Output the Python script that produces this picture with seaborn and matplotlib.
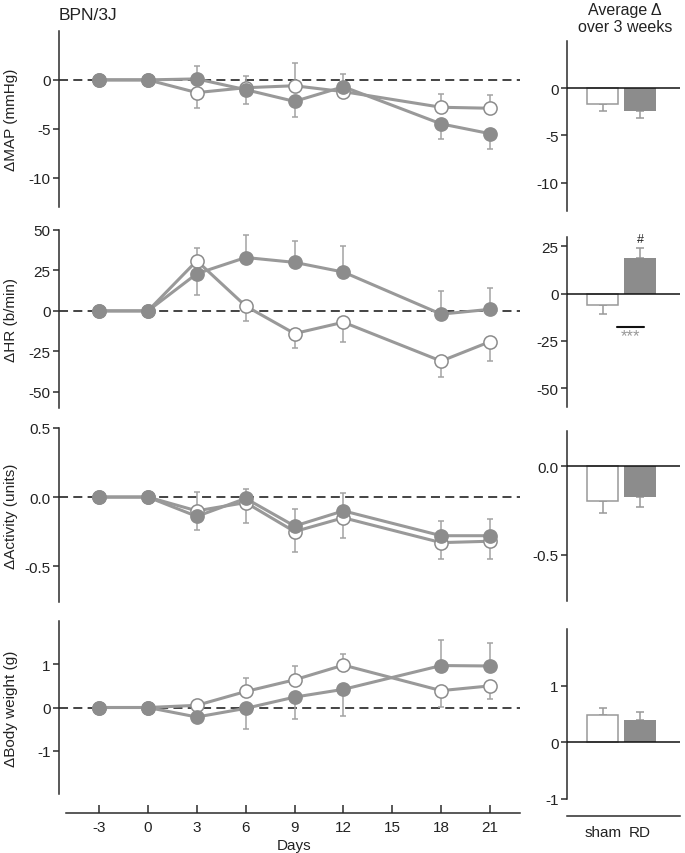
import numpy as np
import pandas as pd
import seaborn as sns
import matplotlib.pyplot as plt

# time course (days after surgery)
days = [-3, 0, 3, 6, 9, 12, 18, 21]

map_rd = [0, 0, 0.1, -1.0, -2.2, -0.7, -4.5, -5.5]
map_rd_lo = [0, 0, 0, 1.5, 1.6, 0, 1.5, 1.6]
map_rd_hi = [0, 0, 1.3, 0, 0, 1.3, 0, 0]
map_sham = [0, 0, -1.3, -0.8, -0.6, -1.2, -2.8, -2.9]
map_sham_lo = [0, 0, 1.6, 0, 0, 0, 0, 0]
map_sham_hi = [0, 0, 0, 1.2, 2.3, 0, 1.4, 1.4]

hr_rd = [0, 0, 23, 33, 30, 24, -2, 1]
hr_rd_lo = [0, 0, 13, 0, 0, 0, 0, 0]
hr_rd_hi = [0, 0, 0, 14, 13, 16, 14, 13]
hr_sham = [0, 0, 31, 3, -14, -7, -31, -19]
hr_sham_lo = [0, 0, 0, 9, 9, 12, 10, 12]
hr_sham_hi = [0, 0, 8, 0, 0, 0, 0, 0]

act_rd = [0, 0, -0.14, -0.01, -0.21, -0.10, -0.28, -0.28]
act_rd_lo = [0, 0, 0.10, 0, 0, 0, 0, 0]
act_rd_hi = [0, 0, 0, 0.07, 0.12, 0.13, 0.11, 0.12]
act_sham = [0, 0, -0.10, -0.04, -0.25, -0.15, -0.33, -0.32]
act_sham_lo = [0, 0, 0, 0.15, 0.15, 0.15, 0.12, 0.13]
act_sham_hi = [0, 0, 0.14, 0, 0, 0, 0, 0]

bw_rd = [0, 0, -0.22, -0.02, 0.24, 0.42, 0.97, 0.96]
bw_rd_lo = [0, 0, 0, 0.48, 0.50, 0.62, 0, 0]
bw_rd_hi = [0, 0, 0, 0, 0, 0, 0.58, 0.52]
bw_sham = [0, 0, 0.05, 0.37, 0.64, 0.98, 0.39, 0.50]
bw_sham_lo = [0, 0, 0, 0, 0, 0, 0.37, 0.30]
bw_sham_hi = [0, 0, 0.05, 0.31, 0.32, 0.25, 0, 0]

# average over 3 weeks
groups = ['sham', 'RD']
avg_map = [-1.7, -2.4]
avg_map_err = [0.7, 0.7]
avg_hr = [-5.8, 19.0]
avg_hr_err = [4.7, 5.2]
avg_act = [-0.197, -0.17]
avg_act_err = [0.067, 0.06]
avg_bw = [0.49, 0.39]
avg_bw_err = [0.11, 0.14]

ylabels = ['\u0394MAP (mmHg)', '\u0394HR (b/min)', '\u0394Activity (units)', '\u0394Body weight (g)']
day_ticks = [-3, 0, 3, 6, 9, 12, 15, 18, 21]

sns.set_style('ticks')
plt.rcParams['font.family'] = ['Liberation Sans', 'DejaVu Sans']
plt.rcParams['axes.unicode_minus'] = False
plt.rcParams['lines.scale_dashes'] = False

W, H = 685, 854
fig = plt.figure(figsize=(W / 100, H / 100), dpi=100)

LINE = '#999999'
FILL = '#8c8c8c'
ERR = '#a3a3a3'
SPINE = '#2b2b2b'


def px_axes(x0, x1, y0, y1):
    return fig.add_axes([x0 / W, 1 - y1 / H, (x1 - x0) / W, (y1 - y0) / H])


def style_axis(ax):
    for s in ['top', 'right', 'bottom']:
        ax.spines[s].set_visible(False)
    ax.spines['left'].set_linewidth(1.1)
    ax.spines['left'].set_color(SPINE)
    ax.tick_params(axis='y', direction='out', length=4, width=1.1, color=SPINE,
                   labelsize=11, pad=2, labelcolor='#222222')


left_rows = [
    (32, 208, (-13, 5), [0, -5, -10], '%d',
     (map_sham, map_sham_lo, map_sham_hi), (map_rd, map_rd_lo, map_rd_hi)),
    (231, 409, (-60, 50), [50, 25, 0, -25, -50], '%d',
     (hr_sham, hr_sham_lo, hr_sham_hi), (hr_rd, hr_rd_lo, hr_rd_hi)),
    (429, 603, (-0.76, 0.5), [0.5, 0.0, -0.5], '%.1f',
     (act_sham, act_sham_lo, act_sham_hi), (act_rd, act_rd_lo, act_rd_hi)),
    (622, 795, (-2, 2), [1, 0, -1], '%d',
     (bw_sham, bw_sham_lo, bw_sham_hi), (bw_rd, bw_rd_lo, bw_rd_hi)),
]

right_rows = [
    (42, 212, (-13, 5), [0, -5, -10], '%d', avg_map, avg_map_err),
    (238, 408, (-60, 30), [25, 0, -25, -50], '%d', avg_hr, avg_hr_err),
    (432, 602, (-0.76, 0.2), [0.0, -0.5], '%.1f', avg_act, avg_act_err),
    (630, 800, (-1, 2), [1, 0, -1], '%d', avg_bw, avg_bw_err),
]

xmin, xmax = -5.46, 22.84

for i, (y0, y1, ylim, yt, fmt, sham, rd) in enumerate(left_rows):
    ax = px_axes(59, 520, y0, y1)
    style_axis(ax)
    ax.axhline(0, color='#111111', lw=1.1, ls='--', dashes=(6.5, 3.8), zorder=1)
    for (vals, lo, hi), face in [(sham, 'white'), (rd, FILL)]:
        ax.errorbar(days, vals, yerr=[lo, hi], fmt='none', ecolor=ERR,
                    elinewidth=1.1, capsize=2.4, capthick=1.1, zorder=2)
        df = pd.DataFrame({'day': days, 'value': vals})
        sns.lineplot(data=df, x='day', y='value', ax=ax, color=LINE, lw=2.2,
                     marker='o', markersize=9.5, markerfacecolor=face,
                     markeredgecolor=FILL, markeredgewidth=1.1, zorder=3)
    ax.set_xlim(xmin, xmax)
    ax.set_ylim(*ylim)
    ax.set_yticks(yt)
    ax.set_yticklabels([fmt % v for v in yt])
    ax.set_ylabel(ylabels[i], fontsize=11, color='#222222')
    ax.yaxis.set_label_coords(-0.09, 0.5)
    if i < 3:
        ax.set_xticks([])
        ax.set_xlabel('')
    else:
        ax.spines['bottom'].set_visible(True)
        ax.spines['bottom'].set_position(('outward', 14))
        ax.spines['bottom'].set_bounds(-5.03, xmax)
        ax.spines['bottom'].set_linewidth(1.1)
        ax.spines['bottom'].set_color(SPINE)
        ax.set_xticks(day_ticks)
        ax.set_xticklabels([str(d) for d in day_ticks])
        ax.tick_params(axis='x', direction='in', length=6, width=1.1, color=SPINE,
                       labelsize=11, pad=4.5, labelcolor='#222222')
        ax.set_xlabel('Days', fontsize=11, color='#222222')
        ax.xaxis.set_label_coords((294 - 59) / 461, -0.255)

for i, (y0, y1, ylim, yt, fmt, vals, errs) in enumerate(right_rows):
    ax = px_axes(567, 680, y0, y1)
    style_axis(ax)
    df = pd.DataFrame({'group': groups, 'value': vals})
    sns.barplot(data=df, x='group', y='value', ax=ax, color=FILL, width=0.84,
                errorbar=None, zorder=2)
    bars = ax.patches
    bars[0].set_facecolor('white')
    bars[0].set_edgecolor(LINE)
    bars[0].set_linewidth(1.1)
    bars[1].set_facecolor(FILL)
    bars[1].set_edgecolor('none')
    lo = [e if v < 0 else 0 for v, e in zip(vals, errs)]
    hi = [e if v >= 0 else 0 for v, e in zip(vals, errs)]
    ax.errorbar([0, 1], vals, yerr=[lo, hi], fmt='none', ecolor=LINE,
                elinewidth=1.1, capsize=3, capthick=1.1, zorder=1)
    ax.axhline(0, color='#111111', lw=1.1, zorder=3)
    ax.set_xlim(-0.97, 2.08)
    ax.set_ylim(*ylim)
    ax.set_yticks(yt)
    ax.set_yticklabels([fmt % v for v in yt])
    ax.set_ylabel('')
    ax.set_xlabel('')
    if i == 1:
        ax.text(1, vals[1] + errs[1] + 1.5, '#', ha='center', va='bottom',
                fontsize=9, color='#222222')
        ax.plot([0.38, 1.1], [-17.5, -17.5], color='#111111', lw=1.5)
        ax.text(0.74, -18.5, '***', ha='center', va='top', fontsize=12, color='#999999')
    if i < 3:
        ax.set_xticks([])
    else:
        ax.spines['bottom'].set_visible(True)
        ax.spines['bottom'].set_position(('outward', 12))
        ax.spines['bottom'].set_linewidth(1.1)
        ax.spines['bottom'].set_color(SPINE)
        ax.tick_params(axis='x', length=0, labelsize=11, pad=7, labelcolor='#222222')

fig.text(59 / W, 1 - 16 / H, 'BPN/3J', fontsize=12.5, va='center', ha='left', color='#222222')
fig.text(625 / W, 1 - 19 / H, 'Average \u0394\nover 3 weeks', fontsize=11.5,
         ha='center', va='center', linespacing=1.25, color='#222222')

fig.savefig('out.png', dpi=100)
